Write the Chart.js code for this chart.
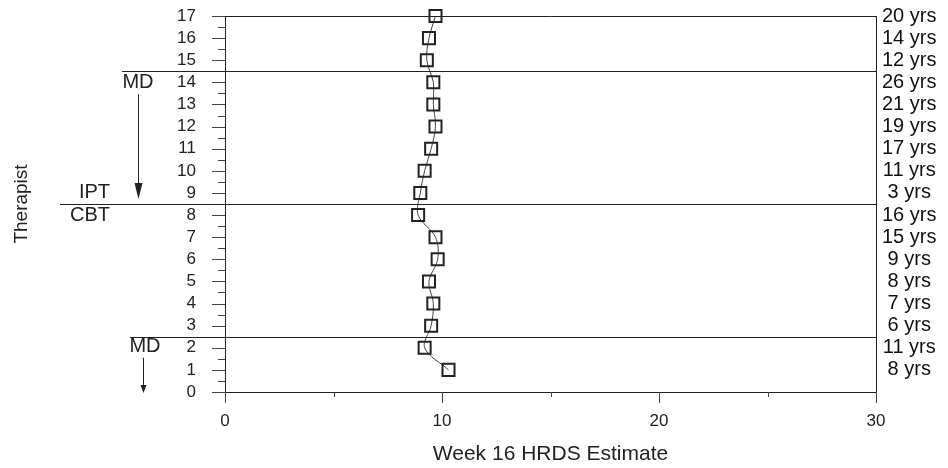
<!DOCTYPE html>
<html>
<head>
<meta charset="utf-8">
<script src="https://cdn.jsdelivr.net/npm/chart.js@4"></script>
<style>
  html, body { margin: 0; padding: 0; background: #fff; }
</style>
</head>
<body>
<canvas id="hrdsChart" width="948" height="468"></canvas>
<script>
// therapist rows, bottom to top
const therapists = [1, 2, 3, 4, 5, 6, 7, 8, 9, 10, 11, 12, 13, 14, 15, 16, 17];
const hrdsEstimate = [10.3, 9.2, 9.5, 9.6, 9.4, 9.8, 9.7, 8.9, 9.0, 9.2, 9.5, 9.7, 9.6, 9.6, 9.3, 9.4, 9.7];
const experience = ['8 yrs', '11 yrs', '6 yrs', '7 yrs', '8 yrs', '9 yrs', '15 yrs', '16 yrs', '3 yrs',
                    '11 yrs', '17 yrs', '19 yrs', '21 yrs', '26 yrs', '12 yrs', '14 yrs', '20 yrs'];
const xTicks = [0, 10, 20, 30];
const yTicks = [0, 1, 2, 3, 4, 5, 6, 7, 8, 9, 10, 11, 12, 13, 14, 15, 16, 17];
const groupBreaks = [2.5, 8.5, 14.5];

const FONT = "'Liberation Sans', Arial, sans-serif";
const INK = '#222';

function seg(ctx, x1, y1, x2, y2) {
    ctx.beginPath();
    ctx.moveTo(x1, y1);
    ctx.lineTo(x2, y2);
    ctx.stroke();
}

function arrow(ctx, x, y1, y2, headLen, headW) {
    seg(ctx, x, y1, x, y2 - headLen + 1);
    ctx.beginPath();
    ctx.moveTo(x - headW / 2, y2 - headLen);
    ctx.lineTo(x + headW / 2, y2 - headLen);
    ctx.lineTo(x, y2);
    ctx.closePath();
    ctx.fill();
}

// keep the plot box fixed: no extra room for the end labels
function noPad(s) {
    s.paddingTop = 0;
    s.paddingBottom = 0;
    s.paddingLeft = 0;
    s.paddingRight = 0;
}

const marks = {
    id: 'marks',
    afterDraw(chart) {
        const { ctx, chartArea: a, scales: { x, y } } = chart;
        ctx.save();
        ctx.strokeStyle = '#444';
        ctx.fillStyle = INK;
        ctx.lineWidth = 1;

        // tick marks, major and half-step minor
        for (let v = 0; v <= 17; v += 0.5) {
            const py = Math.round(y.getPixelForValue(v)) + 0.5;
            seg(ctx, a.left - (v % 1 === 0 ? 13 : 7), py, a.left, py);
        }
        for (let v = 0; v <= 30; v += 5) {
            const px = Math.round(x.getPixelForValue(v)) + 0.5;
            seg(ctx, px, a.bottom, px, a.bottom + (v % 10 === 0 ? 11 : 5));
        }

        // top frame line
        ctx.strokeStyle = INK;
        seg(ctx, a.left, Math.round(a.top) + 0.5, a.right, Math.round(a.top) + 0.5);

        // group separators
        const startX = [130, 60, 122];
        groupBreaks.forEach((b, i) => {
            const py = Math.round(y.getPixelForValue(b)) + 0.5;
            seg(ctx, startX[i], py, a.right, py);
        });

        ctx.font = '20px ' + FONT;
        ctx.textBaseline = 'middle';
        ctx.textAlign = 'center';
        const top = y.getPixelForValue(14.5);
        const mid = y.getPixelForValue(8.5);
        const low = y.getPixelForValue(2.5);
        ctx.fillText('MD', 138, top + 11);
        ctx.fillText('MD', 145, low + 10);
        ctx.textAlign = 'right';
        ctx.fillText('IPT', 110, mid - 12);
        ctx.fillText('CBT', 110, mid + 11);

        arrow(ctx, 138.5, top + 23, mid - 5, 16, 8);
        arrow(ctx, 143.5, low + 21, y.getPixelForValue(0) + 1, 8, 6);
        ctx.restore();
    }
};

new Chart(document.getElementById('hrdsChart'), {
    type: 'scatter',
    data: {
        datasets: [{
            data: therapists.map((t, i) => ({ x: hrdsEstimate[i], y: t })),
            showLine: true,
            borderColor: '#444',
            borderWidth: 1,
            tension: 0.35,
            pointStyle: 'rect',
            pointRadius: 8.5,
            pointBorderWidth: 2,
            pointBorderColor: INK,
            pointBackgroundColor: 'rgba(0,0,0,0)',
            clip: false
        }]
    },
    options: {
        responsive: false,
        animation: false,
        layout: { padding: { top: 16, left: 0, right: 0, bottom: 0 } },
        plugins: { legend: { display: false }, tooltip: { enabled: false } },
        scales: {
            x: {
                type: 'linear',
                position: 'bottom',
                min: 0,
                max: 30,
                afterBuildTicks: s => { s.ticks = xTicks.map(v => ({ value: v })); },
                afterFit: s => { s.height = 76; noPad(s); },
                grid: { display: false, drawTicks: false },
                border: { display: true, color: INK, width: 1 },
                ticks: { padding: 19, color: INK, font: { family: FONT, size: 17 }, maxRotation: 0, autoSkip: false },
                title: {
                    display: true,
                    text: 'Week 16 HRDS Estimate',
                    color: INK,
                    font: { family: FONT, size: 21 },
                    padding: { top: 0, bottom: 1 }
                }
            },
            y: {
                position: 'left',
                min: 0,
                max: 17,
                afterBuildTicks: s => { s.ticks = yTicks.map(v => ({ value: v })); },
                afterFit: s => { s.width = 225; noPad(s); },
                grid: { display: false, drawTicks: false },
                border: { display: true, color: INK, width: 1 },
                ticks: { padding: 29, color: INK, autoSkip: false, font: { family: FONT, size: 17 } },
                title: {
                    display: true,
                    text: 'Therapist',
                    color: INK,
                    font: { family: FONT, size: 19 },
                    padding: { top: 10, bottom: 0 }
                }
            },
            y2: {
                position: 'right',
                min: 0,
                max: 17,
                afterBuildTicks: s => { s.ticks = therapists.map(v => ({ value: v })); },
                afterFit: s => { s.width = 72; noPad(s); },
                grid: { display: false, drawTicks: false },
                border: { display: true, color: INK, width: 1 },
                ticks: {
                    callback: v => experience[therapists.indexOf(v)],
                    autoSkip: false,
                    crossAlign: 'center',
                    padding: 6,
                    color: '#111',
                    font: { family: FONT, size: 20 }
                }
            }
        }
    },
    plugins: [marks]
});
</script>
</body>
</html>
